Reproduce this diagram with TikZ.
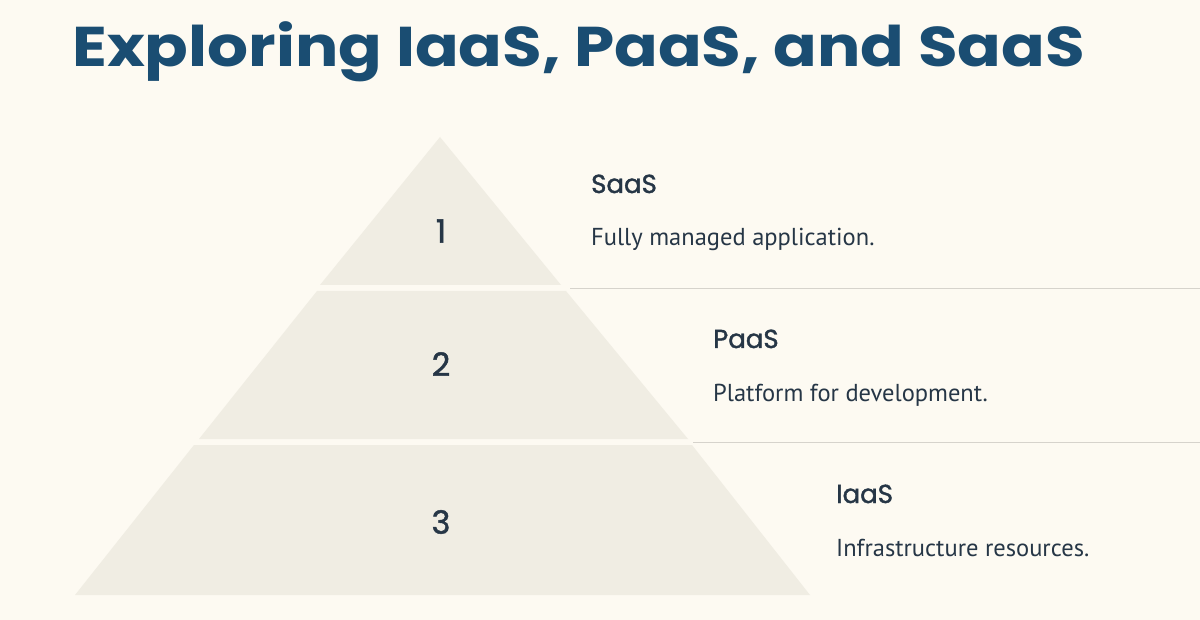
\documentclass[tikz,border=0pt]{standalone}
\usepackage{fontspec}
\setmainfont{PT Sans}
\newfontfamily\headfont{Poppins}[FakeBold=1.5]
\newfontfamily\titlefont{Poppins}[UprightFont=* Bold]
\definecolor{bg}{HTML}{FDFAF2}
\definecolor{tier}{HTML}{F0EDE3}
\definecolor{ttl}{HTML}{1A4D72}
\definecolor{ink}{HTML}{263646}
\definecolor{rule}{HTML}{D6D3CC}
\begin{document}
\begin{tikzpicture}[x=1pt,y=-1pt,
  head/.style={anchor=base west,text=ink,font=\headfont\fontsize{26}{28}\selectfont,inner sep=0},
  desc/.style={anchor=base west,text=ink,font=\fontsize{24.5}{26}\selectfont,inner sep=0},
  num/.style={text=ink,font=\headfont\fontsize{32}{34}\selectfont},
  tierfill/.style={fill=tier,draw=none}]
\fill[bg] (0,0) rectangle (1200,620);
\useasboundingbox (0,0) rectangle (1200,620);
\node[anchor=base west,text=ttl,inner sep=0,xscale=1.15,transform shape,font=\titlefont\fontsize{56}{60}\selectfont] (title) at (72,67) {Exploring IaaS, PaaS, and SaaS};
% tiers
\fill[tierfill] (440,137) -- (561,285) -- (320,285) -- cycle;
\fill[tierfill] (317,291) -- (566,291) -- (688,439) -- (199,439) -- cycle;
\fill[tierfill] (194,445) -- (692,445) -- (810,595) -- (75,595) -- cycle;
\draw[rule] (570,288) -- (1200,288);
\draw[rule] (693,442) -- (1200,442);
\node[num] (n1) at (441,231) {1};
\node[num] (n2) at (441,364) {2};
\node[num] (n3) at (441,522) {3};
\node[head] (h1) at (591,193) {SaaS};
\node[desc] (d1) at (591,246) {Fully managed application.};
\node[head] (h2) at (713,348) {PaaS};
\node[desc] (d2) at (713,401) {Platform for development.};
\node[head] (h3) at (836,503) {IaaS};
\node[desc] (d3) at (836,556) {Infrastructure resources.};
\end{tikzpicture}
\end{document}
